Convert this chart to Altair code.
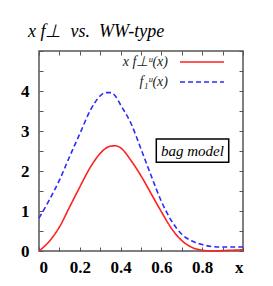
import altair as alt
import pandas as pd

# ---- data ----
x_vals = [0, 0.05, 0.1, 0.15, 0.2, 0.25, 0.3, 0.325, 0.35, 0.375, 0.4, 0.45, 0.5,
          0.55, 0.6, 0.65, 0.7, 0.75, 0.8, 0.85, 0.9, 0.95, 1.0]
red_vals = [0, 0.24, 0.6, 1.1, 1.6, 2.08, 2.44, 2.56, 2.62, 2.63, 2.58, 2.27, 1.88,
            1.43, 0.98, 0.56, 0.26, 0.09, 0.02, 0.0, 0.01, 0.02, 0.03]
blue_vals = [0.82, 1.27, 1.77, 2.36, 2.93, 3.5, 3.88, 3.96, 3.96, 3.87, 3.65, 3.2, 2.55,
             1.88, 1.24, 0.75, 0.42, 0.25, 0.16, 0.11, 0.1, 0.1, 0.1]
series_names = ["x f\u22a5\u1d58(x)", "f\u2081\u1d58(x)"]
x_ticks = [0, 0.2, 0.4, 0.6, 0.8, 1.0]
y_ticks = [0, 1, 2, 3, 4]
x_minor = [i / 10 for i in range(11)]
y_minor = [i / 2 for i in range(11)]

n = len(x_vals)
df = pd.DataFrame({
    "x": x_vals + x_vals,
    "y": red_vals + blue_vals,
    "s": [series_names[0]] * n + [series_names[1]] * n,
})
one = pd.DataFrame({"k": [0]})

SERIF = "Liberation Serif"
FRAME = "#555555"
xs = alt.Scale(domain=[0, 1], nice=False, zero=False)
ys = alt.Scale(domain=[0, 5], nice=False, zero=False)

leg = alt.Legend(title=None, orient="none", legendX=156, legendY=4,
                 symbolType="M-4,0H4", symbolSize=121, symbolStrokeWidth=1.6,
                 labelAlign="right", labelOffset={"expr": "-41"}, labelFont=SERIF,
                 labelFontStyle="italic", labelFontSize=14, labelColor="#222",
                 rowPadding=6, padding=0)

lines = alt.Chart(df).mark_line(interpolate="monotone", strokeWidth=1.6).encode(
    x=alt.X("x:Q", scale=xs, axis=alt.Axis(
        orient="bottom", values=x_ticks, format=".1~f",
        labelExpr="datum.value >= 1 ? 'x' : datum.label",
        ticks=False, domain=False, grid=False, title=None,
        labelFont=SERIF, labelFontWeight="bold", labelFontSize=17,
        labelColor="black", labelPadding=8)),
    y=alt.Y("y:Q", scale=ys, axis=alt.Axis(
        orient="left", values=y_ticks, ticks=False, domain=False, grid=False,
        title=None, labelFont=SERIF, labelFontWeight="bold", labelFontSize=17,
        labelColor="black", labelPadding=10)),
    color=alt.Color("s:N", scale=alt.Scale(domain=series_names,
                                           range=["#ff2020", "#2b2bff"]),
                    sort=series_names, legend=leg),
    strokeDash=alt.StrokeDash("s:N", scale=alt.Scale(domain=series_names,
                                                     range=[[1, 0], [5, 3]]),
                              sort=series_names, legend=leg),
)

tick_common = dict(labels=False, domain=False, grid=False, title=None,
                   tickSize=4, tickColor=FRAME, tickWidth=1, offset=-4)

ticks_bl = alt.Chart(df).mark_point(opacity=0).encode(
    x=alt.X("x:Q", scale=xs, axis=alt.Axis(orient="bottom", values=x_minor, **tick_common)),
    y=alt.Y("y:Q", scale=ys, axis=alt.Axis(orient="left", values=y_minor, **tick_common)),
)
ticks_tr = alt.Chart(df).mark_point(opacity=0).encode(
    x=alt.X("x:Q", scale=xs, axis=alt.Axis(orient="top", values=x_minor, **tick_common)),
    y=alt.Y("y:Q", scale=ys, axis=alt.Axis(orient="right", values=y_minor, **tick_common)),
)

box = alt.Chart(one).mark_rect(fill="white", stroke="black", strokeWidth=1.5).encode(
    x=alt.X(datum=0.575, type="quantitative", scale=xs, axis=None),
    x2=alt.X2(datum=0.93),
    y=alt.Y(datum=2.22, type="quantitative", scale=ys, axis=None),
    y2=alt.Y2(datum=2.8),
)
box_text = alt.Chart(one).mark_text(font=SERIF, fontStyle="italic", fontWeight="normal",
                                    fontSize=15, color="black").encode(
    x=alt.X(datum=0.752, type="quantitative", scale=xs, axis=None),
    y=alt.Y(datum=2.51, type="quantitative", scale=ys, axis=None),
    text=alt.value("bag model"),
)

chart = alt.layer(lines, ticks_bl, ticks_tr, box, box_text).resolve_axis(
    x="independent", y="independent"
).properties(
    width=204, height=200,
    title=alt.TitleParams("x f\u22a5\u00a0\u00a0vs.\u00a0\u00a0WW-type", anchor="start",
                          frame="group",
                          font=SERIF, fontStyle="italic", fontWeight="normal",
                          fontSize=18, color="black", dx=-11, offset=10),
    autosize="none",
    padding={"left": 31, "top": 43, "right": 22, "bottom": 27},
).configure_view(stroke=FRAME, strokeWidth=1.5)

chart.save("out.html", embed_options={"renderer": "svg", "actions": False})
